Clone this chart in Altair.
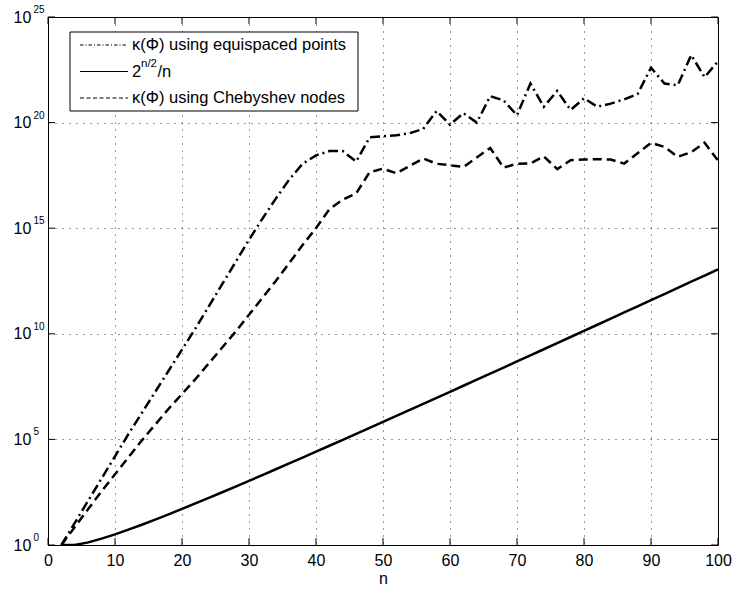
import altair as alt
import pandas as pd

# ---- data ----
n_vals = list(range(2, 101, 2))

# log10 of kappa(Phi) using equispaced points
equi_log10 = [0, 1.05, 2.1, 3.15, 4.2, 5.25, 6.25, 7.25, 8.25, 9.25,
              10.25, 11.3, 12.35, 13.4, 14.45, 15.45, 16.4, 17.3, 18.05, 18.45,
              18.65, 18.65, 18.15, 19.3, 19.35, 19.4, 19.5, 19.7, 20.55, 19.9,
              20.45, 20.0, 21.25, 21.05, 20.35, 21.85, 20.75, 21.5, 20.6, 21.15,
              20.75, 20.9, 21.1, 21.35, 22.6, 21.85, 21.77, 23.2, 22.15, 22.9]

# log10 of kappa(Phi) using Chebyshev nodes
cheb_log10 = [0, 0.85, 1.7, 2.55, 3.35, 4.15, 4.95, 5.7, 6.45, 7.15,
              7.85, 8.6, 9.35, 10.1, 10.9, 11.7, 12.5, 13.35, 14.2, 15.0,
              15.9, 16.35, 16.65, 17.65, 17.82, 17.6, 17.95, 18.3, 18.05, 17.98,
              17.9, 18.35, 18.8, 17.87, 18.05, 18.06, 18.4, 17.8, 18.22, 18.25,
              18.27, 18.25, 18.06, 18.55, 19.04, 18.85, 18.38, 18.6, 19.05, 18.2]

# log10 of 2^(n/2)/n
bound_log10 = [0.0, 0.0, 0.125, 0.301, 0.505, 0.727, 0.961, 1.204, 1.454, 1.709,
               1.969, 2.232, 2.498, 2.767, 3.038, 3.311, 3.587, 3.863, 4.140, 4.419,
               4.699, 4.980, 5.261, 5.544, 5.827, 6.111, 6.396, 6.681, 6.967, 7.253,
               7.540, 7.827, 8.114, 8.402, 8.691, 8.980, 9.269, 9.558, 9.848, 10.138,
               10.428, 10.719, 11.010, 11.301, 11.592, 11.883, 12.175, 12.467, 12.759, 13.051]

x_ticks = [0, 10, 20, 30, 40, 50, 60, 70, 80, 90, 100]
y_ticks = [1e0, 1e5, 1e10, 1e15, 1e20, 1e25]
y_exponents = ["0", "5", "10", "15", "20", "25"]

legend_equi = "κ(Φ) using equispaced points"
legend_bound_base = "2"
legend_bound_sup = "n/2"
legend_bound_tail = "/n"
legend_cheb = "κ(Φ) using Chebyshev nodes"

# ---- layout ----
W, H = 670, 528
FONT = "Liberation Sans"
TICK_FS = 16
LEG_FS = 16.5

df_equi = pd.DataFrame({"n": n_vals, "v": [10 ** v for v in equi_log10]})
df_cheb = pd.DataFrame({"n": n_vals, "v": [10 ** v for v in cheb_log10]})
df_bound = pd.DataFrame({"n": n_vals, "v": [10 ** v for v in bound_log10]})
df_xt = pd.DataFrame({"n": x_ticks})
df_yt = pd.DataFrame({"v": y_ticks, "e": y_exponents})
one = pd.DataFrame({"k": [0]})

xs = alt.Scale(domain=[0, 100], nice=False, zero=False)
ys = alt.Scale(type="log", domain=[1, 1e25], nice=False)

x_axis = alt.Axis(values=x_ticks, grid=True, gridDash=[1, 6], gridColor="#000",
                  gridOpacity=0.8, gridWidth=1, ticks=False, domain=False,
                  labelFontSize=TICK_FS, labelPadding=7, labelColor="#000",
                  labelFlush=False,
                  title="n", titleFontSize=TICK_FS, titleFontWeight="normal",
                  titlePadding=2, titleColor="#000")
y_axis = alt.Axis(values=y_ticks, grid=True, gridDash=[1, 6], gridColor="#000",
                  gridOpacity=0.8, gridWidth=1, ticks=False, domain=False,
                  labelExpr="'10'", labelAlign="left", labelBaseline="middle",
                  labelFlush=False,
                  labelPadding=35, labelFontSize=TICK_FS, labelColor="#000", title=None)

X = alt.X("n:Q", scale=xs, axis=x_axis)
Y = alt.Y("v:Q", scale=ys, axis=y_axis)


def line(df, dash):
    kw = {}
    if dash:
        kw["strokeDash"] = dash
    return alt.Chart(df).mark_line(color="black", strokeWidth=2.5, clip=True, **kw).encode(
        x=X, y=Y)


equi_line = line(df_equi, [10, 4, 2, 4])
cheb_line = line(df_cheb, [9, 5])
bound_line = line(df_bound, None)

# inward ticks
tick_b = alt.Chart(df_xt).mark_rule(color="black", strokeWidth=1).encode(
    x=X, y=alt.value(H), y2=alt.value(H - 7))
tick_t = alt.Chart(df_xt).mark_rule(color="black", strokeWidth=1).encode(
    x=X, y=alt.value(0), y2=alt.value(7))
tick_l = alt.Chart(df_yt).mark_rule(color="black", strokeWidth=1).encode(
    y=Y, x=alt.value(0), x2=alt.value(7))
tick_r = alt.Chart(df_yt).mark_rule(color="black", strokeWidth=1).encode(
    y=Y, x=alt.value(W), x2=alt.value(W - 7))

# exponents of y tick labels
exps = alt.Chart(df_yt).mark_text(align="left", baseline="middle", dy=-7,
                                  fontSize=10, color="black").encode(
    y=Y, x=alt.value(-14.5), text="e:N")

# legend
LX0, LX1 = 22, 310
LY0, LY1 = 15, 94
SX0, SX1 = 32, 80
TX = 84
R1, R2, R3 = 28, 54.5, 81

leg_box = alt.Chart(one).mark_rect(fill="white", stroke="black", strokeWidth=1).encode(
    x=alt.value(LX0), x2=alt.value(LX1), y=alt.value(LY0), y2=alt.value(LY1))
leg_l1 = alt.Chart(one).mark_rule(color="black", strokeWidth=1, strokeDash=[3.5, 2, 1, 2]).encode(
    x=alt.value(SX0), x2=alt.value(SX1), y=alt.value(R1))
leg_l2 = alt.Chart(one).mark_rule(color="black", strokeWidth=1.2).encode(
    x=alt.value(SX0), x2=alt.value(SX1), y=alt.value(R2))
leg_l3 = alt.Chart(one).mark_rule(color="black", strokeWidth=1, strokeDash=[4, 2.5]).encode(
    x=alt.value(SX0), x2=alt.value(SX1), y=alt.value(R3))


def ltext(txt, x, y, size=LEG_FS, dy=0):
    return alt.Chart(one).mark_text(align="left", baseline="middle", fontSize=size,
                                    dy=dy, color="black").encode(
        x=alt.value(x), y=alt.value(y), text=alt.value(txt))


leg_t1 = ltext(legend_equi, TX, R1)
leg_t2a = ltext(legend_bound_base, TX, R2)
leg_t2b = ltext(legend_bound_sup, TX + 9, R2, size=11.5, dy=-7.5)
leg_t2c = ltext(legend_bound_tail, TX + 25.5, R2)
leg_t3 = ltext(legend_cheb, TX, R3)

chart = alt.layer(
    bound_line, cheb_line, equi_line,
    tick_b, tick_t, tick_l, tick_r, exps,
    leg_box, leg_l1, leg_l2, leg_l3, leg_t1, leg_t2a, leg_t2b, leg_t2c, leg_t3,
).properties(
    width=W, height=H,
    autosize=alt.AutoSizeParams(type="none"),
    padding={"left": 48, "top": 17, "right": 14, "bottom": 44},
    background="white",
).configure(font=FONT).configure_view(stroke="black", strokeWidth=1)

chart.save("out.html", embed_options={"renderer": "svg", "actions": False})
